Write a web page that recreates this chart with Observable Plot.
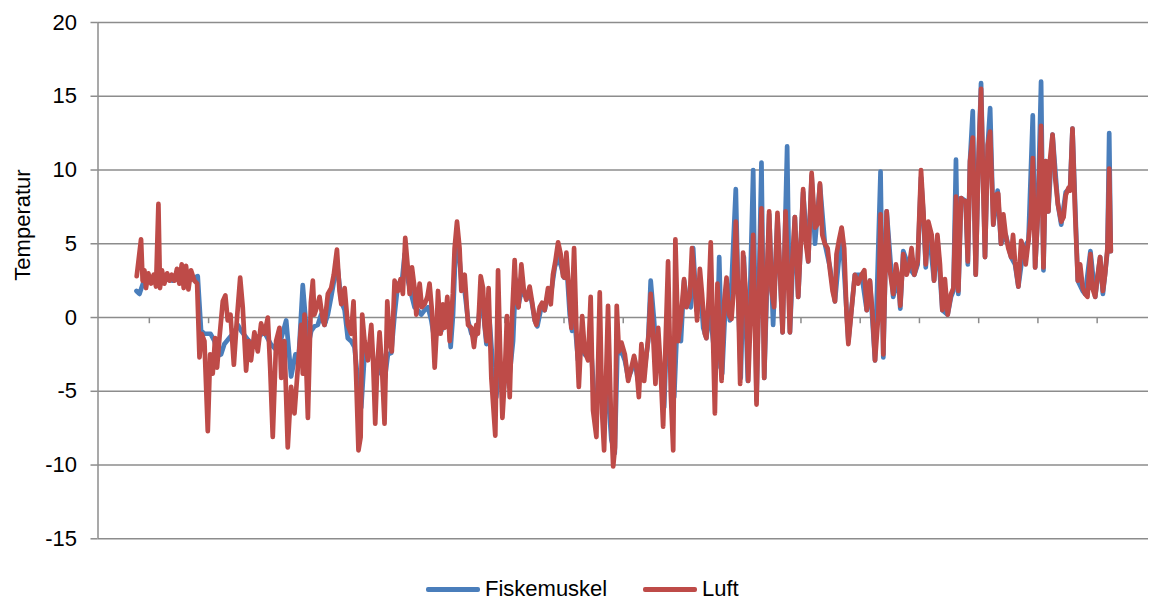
<!DOCTYPE html>
<html><head><meta charset="utf-8">
<script src="https://cdn.jsdelivr.net/npm/d3@7"></script>
<script src="https://cdn.jsdelivr.net/npm/@observablehq/plot@0.6"></script>
<style>
body{margin:0;background:#fff;font-family:"Liberation Sans",Arial,sans-serif;}
#wrap{position:relative;width:1149px;height:601px;overflow:hidden;}
.sw{position:absolute;height:5px;border-radius:2px;top:587px;width:54px;}
.lt{position:absolute;font-size:22px;line-height:30px;top:574px;color:#000;}
</style></head><body><div id="wrap"></div>
<script>
// Air temperature (Luft): [day, °C]
const luft = [[19.6,2.8],[21.8,5.3],[22.6,2.5],[23.5,3.2],[24.3,2.0],[25.5,3.0],[26.9,2.3],[28.2,2.9],[29.4,2.1],[30.6,7.7],[31.4,2.0],[32.4,3.2],[33.6,2.3],[35.0,3.0],[36.2,2.5],[37.3,2.9],[38.7,2.5],[40.0,3.3],[41.2,2.3],[42.4,3.6],[43.4,2.0],[44.6,3.5],[45.8,1.9],[47.1,3.2],[48.8,2.5],[50.2,2.3],[51.4,-2.7],[52.5,-1.1],[53.9,-1.6],[55.6,-7.7],[56.8,-2.5],[58.1,-3.8],[59.3,-1.4],[60.3,-3.4],[61.5,-1.4],[63.2,1.1],[64.5,1.5],[65.7,-0.2],[67.1,0.2],[68.8,-3.2],[70.3,-0.2],[72.0,2.7],[73.3,0.7],[75.0,-3.6],[76.2,-1.6],[77.5,-2.9],[79.2,-1.0],[80.9,-2.3],[82.6,-0.4],[84.3,-1.1],[86.0,0],[87.2,-3.4],[88.5,-8.1],[90.2,-1.6],[91.9,-0.7],[92.8,-4.1],[94.4,-1.6],[96.1,-8.8],[97.8,-4.7],[99.5,-6.5],[101.2,-3.4],[102.9,-0.5],[103.7,-3.8],[104.6,0.2],[106.3,-6.8],[107.8,1.0],[108.8,2.5],[109.6,0.2],[111.3,0.9],[112.2,1.4],[113.9,-0.2],[114.7,-0.5],[116.4,1.6],[118.1,2.0],[119.4,2.9],[121.0,4.6],[122.3,1.8],[123.2,0.9],[124.9,2.0],[126.5,-0.5],[128.2,-1.1],[129.4,1.1],[130.8,-4.3],[131.9,-9.0],[133.0,-8.1],[133.8,0.2],[135.0,-1.6],[136.7,-2.9],[138.4,-0.5],[139.2,-2.5],[140.4,-7.2],[141.4,-3.4],[142.6,-1.0],[143.8,-3.4],[145.1,-7.2],[146.5,1.1],[147.7,-1.6],[148.8,-2.3],[150.2,2.5],[151.9,1.8],[153.2,2.6],[154.4,1.6],[155.6,5.4],[157.0,3.2],[157.8,1.6],[159.0,3.4],[160.3,2.0],[161.2,0.2],[162.9,2.3],[164.0,0.7],[165.4,0.9],[166.8,1.4],[167.9,2.3],[169.1,0.5],[170.5,-3.4],[171.3,-1.4],[172.2,1.8],[173.5,-1.1],[174.7,0.9],[175.5,-0.7],[176.9,1.4],[178.1,-1.6],[179.7,1.6],[180.6,4.7],[181.8,6.5],[183.1,4.7],[184.0,1.8],[185.7,2.9],[187.4,-0.5],[189.1,-0.7],[190.4,-2.0],[191.6,-0.5],[192.4,-1.1],[193.8,2.8],[195.0,2.0],[195.8,-0.5],[196.8,-1.6],[197.8,2.0],[199.2,-4.1],[201.2,-8.0],[202.6,3.2],[203.6,-2.0],[204.8,-6.8],[205.9,-4.3],[207.1,0.1],[208.5,-5.4],[209.7,0.0],[211.0,3.9],[211.9,1.1],[213.0,0.7],[214.4,3.6],[215.7,1.8],[216.9,1.2],[218.6,2.1],[219.8,1.1],[221.2,-0.2],[222.0,-0.5],[223.7,0.7],[224.9,1.0],[226.2,0.5],[227.9,2.0],[229.3,0.9],[230.4,2.9],[231.6,3.8],[233.0,5.1],[234.3,4.3],[235.5,2.8],[236.4,2.7],[237.2,4.4],[238.4,2.0],[239.7,-0.7],[241.1,4.7],[242.3,-0.9],[243.5,-4.7],[245.2,0.1],[246.5,-2.3],[248.2,-2.9],[249.5,1.4],[250.7,-6.3],[252.4,-8.1],[254.1,1.7],[255.3,-6.5],[256.3,-9.0],[258.3,0.8],[259.7,-6.3],[260.9,-10.1],[261.8,-8.8],[262.7,0.8],[263.8,-2.3],[265.1,-1.7],[266.8,-2.5],[268.5,-4.3],[270.1,-3.4],[271.5,-2.6],[272.7,-3.4],[273.9,-5.4],[275.2,-1.8],[276.6,-4.3],[277.8,-2.5],[278.9,-1.1],[279.9,1.6],[281.1,-1.1],[282.3,-4.5],[283.7,-0.7],[284.8,-3.2],[286.2,-7.4],[287.5,-1.4],[288.7,3.8],[290.1,-5.2],[291.3,-9.0],[292.4,5.3],[293.8,-1.6],[295.1,-0.2],[296.8,2.6],[298.0,0.7],[299.7,1.4],[300.8,4.7],[302.2,2.3],[303.4,-0.2],[304.8,3.3],[305.9,1.6],[307.3,-1.1],[308.1,-1.4],[309.3,1.4],[310.3,5.1],[311.5,-1.6],[312.4,-6.5],[313.7,2.3],[315.8,-4.3],[317.1,1.0],[318.3,2.7],[319.5,0.2],[320.8,-0.1],[321.8,1.6],[323.0,6.5],[324.2,1.6],[325.2,-4.5],[326.7,4.4],[328.1,1.6],[329.3,-4.3],[330.6,0.5],[331.8,5.6],[333.5,-5.9],[334.7,1.6],[336.0,7.4],[337.4,-4.1],[338.7,2.7],[339.9,7.2],[341.1,1.8],[342.4,0.7],[344.1,7.1],[345.3,3.4],[346.7,-1.0],[348.2,7.2],[350.4,-1.0],[351.6,3.8],[352.9,6.8],[354.6,1.4],[356.0,5.4],[357.1,8.7],[358.3,5.2],[359.7,3.8],[361.4,9.8],[363.1,6.1],[364.2,6.3],[365.6,9.1],[366.8,5.6],[368.1,5.0],[369.5,4.7],[370.7,3.2],[372.0,1.8],[373.2,1.1],[374.0,4.3],[375.2,5.2],[376.6,6.1],[377.9,4.7],[379.1,0.2],[380.0,-1.8],[381.6,0.5],[383.3,2.9],[385.0,2.3],[386.7,2.9],[388.1,3.2],[389.3,0.5],[390.9,2.5],[392.1,0.5],[393.5,-2.9],[395.2,0.2],[396.3,7.0],[397.7,-2.5],[399.4,7.2],[401.0,3.2],[402.7,1.6],[404.1,3.6],[405.3,2.7],[406.3,0.8],[407.8,4.3],[409.5,2.9],[410.7,3.4],[412.0,4.7],[413.4,2.9],[415.1,3.8],[416.8,10.0],[418.0,7.2],[419.2,3.6],[420.5,6.5],[422.2,5.6],[423.4,2.5],[425.1,5.6],[426.4,3.6],[427.6,0.5],[428.9,2.6],[430.3,0.2],[432.0,1.6],[433.2,2.0],[434.5,8.2],[435.7,1.8],[437.1,8.1],[438.3,7.9],[439.4,7.9],[440.5,3.8],[441.6,10.6],[443.0,12.2],[444.5,2.9],[445.9,10.6],[447.2,15.5],[448.4,8.3],[449.2,4.1],[450.6,11.7],[451.8,12.6],[453.4,6.3],[454.6,8.3],[455.9,8.4],[457.3,5.0],[458.5,7.0],[459.7,5.6],[461.0,4.7],[462.4,4.1],[463.4,5.6],[464.4,3.8],[466.1,2.1],[467.5,5.2],[468.7,4.7],[469.8,3.6],[471.2,5.2],[472.4,6.8],[473.4,10.8],[474.6,3.4],[475.9,6.8],[477.6,13.0],[478.8,3.4],[480.0,10.6],[481.3,7.2],[482.2,10.8],[483.4,12.4],[484.7,9.5],[486.1,7.7],[487.8,6.5],[489.0,6.8],[490.1,8.3],[491.5,8.8],[492.3,8.6],[493.5,12.8],[494.8,7.2],[496.2,2.5],[497.4,3.6],[498.7,2.0],[499.9,1.6],[501.1,1.4],[502.6,4.3],[503.6,2.0],[505.0,1.4],[506.3,2.9],[507.5,4.1],[508.9,1.8],[510.0,2.9],[511.2,4.7],[512.1,10.1],[512.9,4.5]];

// Fish muscle temperature (Fiskemuskel): [day, °C]
const fiskemuskel = [[19.5,1.8],[21.0,1.6],[23.0,2.4],[26.0,2.5],[30.0,2.4],[34.0,2.6],[38.0,2.5],[42.0,2.7],[46.0,2.5],[50.5,2.8],[52.2,-0.9],[54.0,-1.1],[57.0,-1.1],[59.0,-1.6],[60.7,-2.6],[62.3,-2.5],[64.0,-1.8],[67.0,-1.3],[69.0,-1.0],[70.8,-0.5],[72.5,-0.9],[75.9,-1.5],[78.0,-1.8],[81.0,-1.3],[84.3,-1.0],[87.5,-1.8],[91.0,-2.3],[95.3,-0.2],[97.8,-4.0],[100.0,-2.5],[101.5,-3.0],[103.7,2.2],[106.3,-2.0],[108.0,-0.9],[109.6,-0.6],[111.3,-0.5],[113.0,0.2],[114.7,-0.5],[116.4,0.2],[118.1,1.4],[119.8,2.7],[121.0,3.8],[123.2,1.1],[124.9,0.5],[126.5,-1.4],[128.2,-1.6],[129.9,-2.0],[131.6,-4.3],[133.3,-6.1],[135.0,-2.5],[136.7,-2.5],[138.4,-2.0],[140.1,-3.4],[141.8,-3.8],[143.4,-2.5],[145.1,-4.3],[146.8,-2.5],[148.5,-2.4],[150.2,0.2],[151.9,2.3],[153.6,2.0],[155.3,4.3],[157.0,2.5],[158.6,1.6],[160.3,0.7],[162.0,0.5],[163.7,0.2],[165.4,0.5],[167.1,0.7],[168.8,-0.2],[170.5,-1.6],[172.2,-0.7],[173.9,-0.9],[175.5,0.2],[177.2,0.5],[178.6,-2.0],[179.8,0.2],[181.0,4.3],[182.3,5.2],[184.0,2.5],[185.7,1.8],[187.4,-0.2],[189.1,-1.1],[190.7,-1.4],[192.4,-0.7],[194.1,1.8],[196.7,-1.8],[198.3,-0.2],[200.0,-3.4],[201.7,-5.4],[203.4,-2.9],[205.1,-5.4],[206.8,-2.9],[208.5,-3.8],[210.2,-1.6],[211.5,2.6],[212.7,0.7],[214.4,1.8],[216.1,1.5],[217.8,1.4],[219.5,1.2],[221.2,-0.2],[222.5,-0.6],[224.5,0.7],[226.2,0.5],[227.9,1.6],[229.6,1.8],[231.3,3.4],[233.0,4.1],[234.7,3.4],[236.0,2.7],[237.2,3.8],[238.9,0.2],[240.1,-0.9],[241.4,-0.2],[243.1,-2.9],[244.8,-2.0],[246.5,-2.5],[248.2,-2.7],[249.9,-2.5],[251.6,-6.1],[253.3,-5.4],[255.0,-4.7],[256.6,-6.5],[258.3,-5.2],[260.0,-8.3],[261.7,-9.2],[263.0,-2.5],[265.1,-2.3],[266.8,-2.9],[268.5,-4.1],[270.1,-3.6],[271.8,-2.9],[273.5,-4.3],[275.2,-2.9],[276.9,-3.4],[278.6,-1.6],[279.9,2.5],[281.6,-0.2],[283.3,-3.4],[285.0,-3.4],[286.7,-6.1],[288.4,0.2],[290.1,-3.4],[291.8,-5.4],[293.5,0.2],[295.2,-1.6],[296.8,2.5],[298.5,0.9],[300.2,0.7],[301.4,4.7],[303.1,0.5],[304.8,2.5],[306.5,-0.7],[308.1,-1.4],[309.8,0.7],[311.5,-1.6],[313.2,-3.4],[314.6,4.1],[316.1,-3.8],[318.3,2.5],[320.0,-0.2],[323.0,8.7],[324.2,1.6],[325.5,-4.1],[327.1,4.1],[329.1,-4.3],[331.8,10.0],[333.5,-5.6],[336.0,10.5],[337.4,-4.1],[339.9,7.0],[341.9,-0.5],[344.1,6.8],[346.7,-1.0],[349.0,11.6],[350.4,-1.0],[352.9,6.8],[354.6,1.4],[357.1,8.5],[359.7,3.8],[361.4,9.6],[363.1,5.0],[365.6,9.0],[368.1,5.0],[370.7,3.4],[373.2,1.1],[376.6,6.0],[380.0,-1.6],[383.3,2.9],[386.7,2.9],[389.3,0.5],[390.9,2.5],[393.5,-2.9],[396.3,9.9],[397.7,-2.7],[399.4,7.2],[402.7,1.4],[405.3,2.7],[406.3,0.6],[407.8,4.5],[410.7,3.4],[413.4,2.9],[415.1,3.6],[416.8,9.5],[418.0,7.0],[419.2,3.4],[420.5,6.3],[423.4,2.5],[425.1,5.4],[427.6,0.5],[430.3,0.2],[432.0,1.4],[433.2,1.8],[434.5,10.7],[435.7,1.6],[437.1,8.1],[439.4,7.9],[440.5,3.6],[441.6,10.6],[443.0,14.0],[444.5,2.9],[445.9,10.6],[447.2,15.9],[449.2,4.1],[450.6,11.7],[451.8,14.2],[453.4,6.3],[455.6,8.6],[457.3,5.0],[459.7,5.6],[462.4,4.1],[464.4,3.6],[466.1,2.1],[468.7,4.7],[471.2,5.2],[473.4,13.7],[474.6,3.4],[475.9,6.8],[477.6,16.0],[478.8,3.2],[480.0,10.6],[481.3,7.2],[483.4,12.4],[486.1,7.7],[487.8,6.3],[490.1,8.5],[492.3,8.8],[493.5,12.8],[496.2,2.5],[498.7,1.8],[499.9,1.6],[502.6,4.5],[505.0,1.4],[507.5,4.1],[508.9,1.6],[511.2,4.5],[512.1,12.5],[512.9,4.5]];

const yTicks = [-15, -10, -5, 0, 5, 10, 15, 20];
const xTickDays = [26, 56, 86, 116, 146, 176, 206, 236, 266, 296, 326, 356, 386, 416, 446, 476, 506];
const seriesNames = ["Fiskemuskel", "Luft"];
const seriesColors = ["#4A7EBB", "#BE4B48"];
const yLabel = "Temperatur";

const FONT = "'Liberation Sans', Arial, sans-serif";
const GRID = "#8c8c8c";

const chart = Plot.plot({
  width: 1149, height: 562,
  marginLeft: 97.5, marginRight: 1, marginTop: 22, marginBottom: 23.7,
  style: {fontFamily: FONT, fontSize: "22px", color: "#000", background: "#fff"},
  x: {domain: [0, 532], axis: null},
  y: {domain: [-15, 20], axis: null},
  marks: [
    Plot.gridY(yTicks, {stroke: GRID, strokeOpacity: 1, strokeWidth: 1.5}),
    Plot.ruleX([0], {stroke: GRID, strokeWidth: 1.5}),
    Plot.axisY(yTicks, {tickSize: 7, tickPadding: 14, stroke: GRID, strokeWidth: 1.5, fill: "#000", label: null, fontSize: 22, tickFormat: d => String(d)}),
    Plot.ruleX(xTickDays, {y1: 0, y2: -0.42, stroke: GRID, strokeWidth: 1.5}),
    Plot.line(fiskemuskel, {x: d => d[0], y: d => d[1], stroke: seriesColors[0], strokeWidth: 4.7, strokeLinejoin: "round", strokeLinecap: "round"}),
    Plot.line(luft, {x: d => d[0], y: d => d[1], stroke: seriesColors[1], strokeWidth: 4.7, strokeLinejoin: "round", strokeLinecap: "round"}),
    Plot.text([yLabel], {frameAnchor: "left", rotate: -90, dx: -75.5, fontSize: 22, fill: "#000"})
  ]
});
const wrap = document.getElementById("wrap");
wrap.appendChild(chart);
const legendPos = [[426, 485], [643, 702]];
seriesNames.forEach((n, i) => {
  const sw = document.createElement("div");
  sw.className = "sw"; sw.style.left = legendPos[i][0] + "px"; sw.style.background = seriesColors[i];
  const t = document.createElement("div");
  t.className = "lt"; t.style.left = legendPos[i][1] + "px"; t.textContent = n;
  wrap.appendChild(sw); wrap.appendChild(t);
});
</script></body></html>
